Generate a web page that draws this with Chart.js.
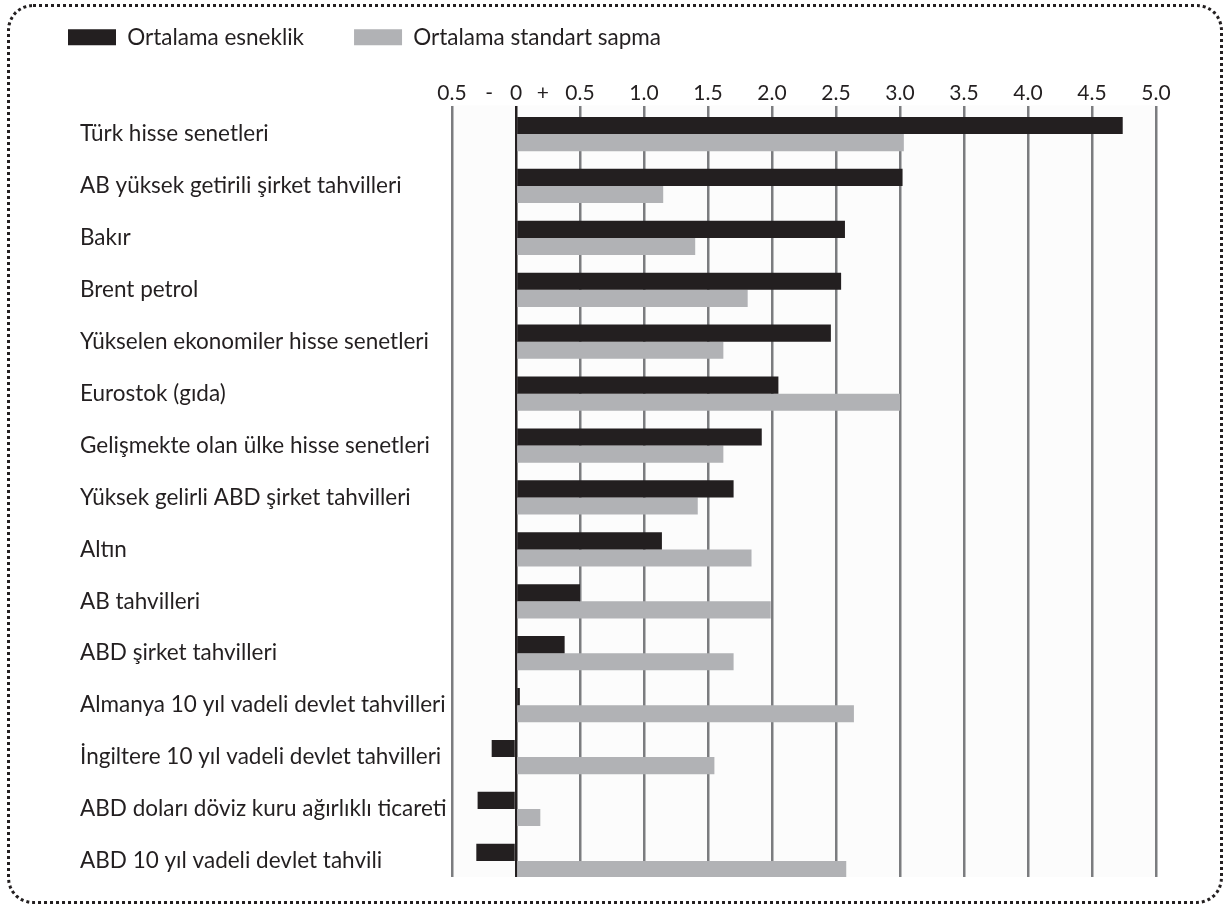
<!DOCTYPE html>
<html>
<head>
<meta charset="utf-8">
<script src="https://cdn.jsdelivr.net/npm/chart.js@4/dist/chart.umd.min.js"></script>
<style>
  html, body { margin: 0; padding: 0; background: #ffffff; }
  #wrap { position: relative; width: 1227px; height: 910px; }
  #frame { position: absolute; left: 7px; top: 4px; width: 1210px; height: 894px;
           border: 3px dotted #231f20; border-radius: 26px; pointer-events: none; }
  canvas { position: absolute; left: 0; top: 0; }
</style>
</head>
<body>
<div id="wrap">
  <canvas id="c" width="1227" height="910"></canvas>
  <div id="frame"></div>
</div>
<script>
const categories = [
  "Türk hisse senetleri",
  "AB yüksek getirili şirket tahvilleri",
  "Bakır",
  "Brent petrol",
  "Yükselen ekonomiler hisse senetleri",
  "Eurostok (gıda)",
  "Gelişmekte olan ülke hisse senetleri",
  "Yüksek gelirli ABD şirket tahvilleri",
  "Altın",
  "AB tahvilleri",
  "ABD şirket tahvilleri",
  "Almanya 10 yıl vadeli devlet tahvilleri",
  "İngiltere 10 yıl vadeli devlet tahvilleri",
  "ABD doları döviz kuru ağırlıklı ticareti",
  "ABD 10 yıl vadeli devlet tahvili"
];
const elasticity = [4.74, 3.02, 2.57, 2.54, 2.46, 2.05, 1.92, 1.70, 1.14, 0.50, 0.38, 0.03, -0.19, -0.30, -0.31];
const stdDeviation = [3.03, 1.15, 1.40, 1.81, 1.62, 3.00, 1.62, 1.42, 1.84, 1.99, 1.70, 2.64, 1.55, 0.19, 2.58];
const seriesNames = ["Ortalama esneklik", "Ortalama standart sapma"];
const xTickValues = [-0.5, -0.21, 0, 0.21, 0.5, 1.0, 1.5, 2.0, 2.5, 3.0, 3.5, 4.0, 4.5, 5.0];
const xTickLabels = ["0.5", "-", "0", "+", "0.5", "1.0", "1.5", "2.0", "2.5", "3.0", "3.5", "4.0", "4.5", "5.0"];
const gridValues = [-0.5, 0.5, 1.0, 1.5, 2.0, 2.5, 3.0, 3.5, 4.0, 4.5, 5.0];

const FONT = "'Lato', 'Open Sans', sans-serif";
const INK = "#231f20";
const GRAY = "#b1b2b5";
const GRID = "#7b7c7f";

const toPoints = arr => arr.map((v, i) => ({ x: v, y: i }));

const plotBackground = {
  id: 'plotBackground',
  beforeDraw(chart) {
    const a = chart.chartArea, ctx = chart.ctx;
    ctx.save();
    ctx.fillStyle = '#fcfcfc';
    ctx.fillRect(a.left, a.top, a.right - a.left, a.bottom - a.top);
    ctx.restore();
  }
};
const shiftYLabels = {
  id: 'shiftYLabels',
  afterLayout(chart) {
    chart.scales.y.left = 80;
  }
};

new Chart(document.getElementById('c'), {
  type: 'bar',
  data: {
    datasets: [
      { label: seriesNames[0], data: toPoints(elasticity), backgroundColor: INK, borderWidth: 0 },
      { label: seriesNames[1], data: toPoints(stdDeviation), backgroundColor: GRAY, borderWidth: 0 }
    ]
  },
  options: {
    indexAxis: 'y',
    responsive: false,
    animation: false,
    maintainAspectRatio: false,
    layout: { padding: { left: 18, right: 71, top: -24, bottom: 33 } },
    datasets: { bar: { categoryPercentage: 0.66, barPercentage: 1.0 } },
    plugins: {
      tooltip: { enabled: false },
      legend: {
        position: 'top',
        align: 'start',
        maxHeight: 100,
        labels: {
          boxWidth: 48, boxHeight: 16, padding: 50,
          color: INK,
          font: { family: FONT, size: 22.5 }
        }
      }
    },
    scales: {
      x: {
        type: 'linear',
        position: 'top',
        bounds: 'data',
        min: -0.5, max: 5.0,
        afterBuildTicks: s => { s.ticks = xTickValues.map(v => ({ value: v })); },
        afterFit: s => { s.height = 47; },
        ticks: {
          autoSkip: false,
          maxRotation: 0,
          padding: 0,
          color: INK,
          font: { family: FONT, size: 21 },
          callback: (v) => { const i = xTickValues.indexOf(v); return i >= 0 ? xTickLabels[i] : ''; }
        },
        grid: {
          drawTicks: false,
          lineWidth: 2.5,
          color: ctx => {
            const v = ctx.tick ? ctx.tick.value : null;
            if (v === 0) return INK;
            return gridValues.includes(v) ? GRID : 'rgba(0,0,0,0)';
          }
        },
        border: { display: false }
      },
      y: {
        type: 'linear',
        reverse: true,
        offset: false,
        bounds: 'data',
        min: -0.55, max: 14.31,
        afterBuildTicks: s => { s.ticks = categories.map((c, i) => ({ value: i })); },
        afterFit: s => { s.width = 452 - 18; },
        ticks: {
          crossAlign: 'far',
          autoSkip: false,
          color: INK,
          font: { family: FONT, size: 22.5 },
          callback: (v) => categories[v] ?? ''
        },
        grid: { display: false, offset: false },
        border: { display: false }
      }
    }
  },
  plugins: [plotBackground, shiftYLabels]
});
</script>
</body>
</html>
